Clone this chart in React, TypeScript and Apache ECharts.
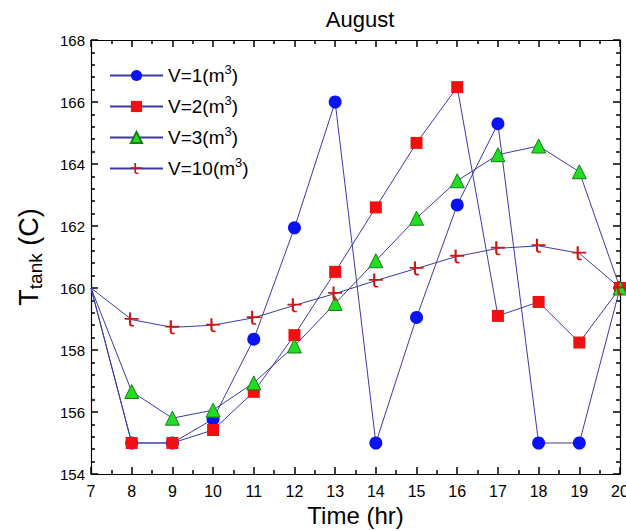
import React, { useEffect, useRef } from "react";
import * as echarts from "echarts";

const hours = [7, 8, 9, 10, 11, 12, 13, 14, 15, 16, 17, 18, 19, 20];
const v1 = [160, 155, 155, 155.77, 158.35, 161.94, 166.0, 155, 159.05, 162.68, 165.3, 155, 155, 160];
const v2 = [160, 155, 155, 155.42, 156.65, 158.48, 160.52, 162.6, 164.68, 166.48, 159.1, 159.55, 158.24, 160];
const v3 = [160, 156.66, 155.8, 156.06, 156.94, 158.13, 159.5, 160.88, 162.25, 163.46, 164.3, 164.58, 163.75, 160];
const v10 = [160, 158.98, 158.73, 158.8, 159.04, 159.44, 159.82, 160.24, 160.63, 161.02, 161.28, 161.36, 161.12, 160];
const seriesNames = ["V=1(m{sup|3})", "V=2(m{sup|3})", "V=3(m{sup|3})", "V=10(m{sup|3})"];
const xTicks = { min: 7, max: 20, step: 1 };
const yTicks = { min: 154, max: 168, step: 2 };

const LINE = "#3b3ba6";
const FONT = "Liberation Sans, Arial, sans-serif";
const tMark =
  "path://M5,0 L7,0 L7,6 L14,6 L14,8 L7,8 L7,12 Q7,14 9.5,13.6 L10,15.2 Q5,16.4 5,12 L5,8 L1,8 L1,6 L5,6 Z";

export default function App() {
  const ref = useRef<HTMLDivElement>(null);
  useEffect(() => {
    if (!ref.current) return;
    const chart = echarts.init(ref.current, null, { renderer: "svg" });
    // the starting hour is drawn as the line origin only, without a marker
    const pairs = (arr: number[]) =>
      hours.map((h, i) => (i === 0 ? { value: [h, arr[i]], symbol: "none" } : { value: [h, arr[i]] }));
    const tickAxis = {
      axisLine: { show: true, lineStyle: { color: "#000", width: 1.2 } },
      axisTick: { show: true, inside: true, length: 7, lineStyle: { color: "#000", width: 1.5 } },
      minorTick: { show: true, length: 4, lineStyle: { color: "#000", width: 1.5 } },
      splitLine: { show: false },
    };
    const mk = (name: string, data: number[], symbol: string, size: number, color: string, border?: string) => ({
      name,
      type: "line",
      data: pairs(data),
      symbol,
      symbolSize: size,
      showAllSymbol: true,
      lineStyle: { color: LINE, width: 1 },
      itemStyle: { color, borderColor: border ?? color, borderWidth: border ? 1 : 0 },
    });
    chart.setOption({
      animation: false,
      backgroundColor: "#fff",
      title: {
        text: "August",
        left: 355,
        textAlign: "center",
        top: 3,
        textStyle: { fontFamily: FONT, fontSize: 22, fontWeight: "normal", color: "#000" },
      },
      legend: {
        left: 104,
        top: 58,
        orient: "vertical",
        itemWidth: 53,
        itemHeight: 14,
        itemGap: 9,
        formatter: (n: string) => n,
        textStyle: {
          fontFamily: FONT,
          fontSize: 19,
          color: "#000",
          rich: {
            sup: { fontFamily: FONT, fontSize: 13, color: "#000", padding: [0, 0, 12, 0] },
          },
        },
      },
      grid: { left: 91, right: 6, top: 40, bottom: 57, outerBoundsMode: "none", containLabel: false },
      xAxis: [
        {
          type: "value",
          min: xTicks.min,
          max: xTicks.max,
          interval: xTicks.step,
          position: "bottom",
          ...tickAxis,
          minorTick: { ...tickAxis.minorTick, splitNumber: 2 },
          axisLabel: { color: "#000", fontFamily: FONT, fontSize: 16, margin: 9 },
          name: "Time (hr)",
          nameLocation: "middle",
          nameGap: 28,
          nameTextStyle: { color: "#000", fontFamily: FONT, fontSize: 24 },
        },
        {
          type: "value",
          min: xTicks.min,
          max: xTicks.max,
          interval: xTicks.step,
          position: "top",
          ...tickAxis,
          minorTick: { ...tickAxis.minorTick, splitNumber: 2 },
          axisLabel: { show: false },
        },
      ],
      yAxis: [
        {
          type: "value",
          min: yTicks.min,
          max: yTicks.max,
          interval: yTicks.step,
          position: "left",
          ...tickAxis,
          minorTick: { ...tickAxis.minorTick, splitNumber: 5 },
          axisLabel: { color: "#000", fontFamily: FONT, fontSize: 15, margin: 6 },
          name: "T{sub|tank} (C)",
          nameLocation: "middle",
          nameGap: 46,
          nameRotate: 90,
          nameTextStyle: {
            color: "#000",
            fontFamily: FONT,
            fontSize: 27,
            rich: { sub: { fontFamily: FONT, fontSize: 19, color: "#000", padding: [13, 0, 0, 0] } },
          },
        },
        {
          type: "value",
          min: yTicks.min,
          max: yTicks.max,
          interval: yTicks.step,
          position: "right",
          ...tickAxis,
          minorTick: { ...tickAxis.minorTick, splitNumber: 5 },
          axisLabel: { show: false },
        },
      ],
      series: [
        mk(seriesNames[0], v1, "circle", 13, "#0a14f0"),
        mk(seriesNames[1], v2, "rect", 12, "#f01010"),
        mk(seriesNames[2], v3, "triangle", 14, "#22dd22", "#1a7a1a"),
        mk(seriesNames[3], v10, tMark, 14, "#c81818"),
      ],
    });
    return () => chart.dispose();
  }, []);
  return <div ref={ref} style={{ width: 626, height: 531, position: "absolute", left: 0, top: 0 }} />;
}
